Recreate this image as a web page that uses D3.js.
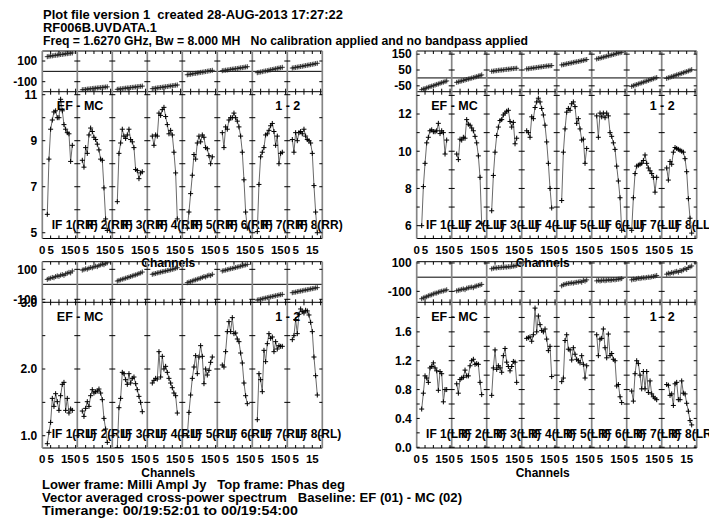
<!DOCTYPE html>
<html><head><meta charset="utf-8">
<script src="https://cdn.jsdelivr.net/npm/d3@7"></script>
<style>
body{margin:0;background:#fff}
svg{display:block}
text{font-family:"Liberation Sans",Arial,Helvetica,sans-serif;font-weight:bold;fill:#000;white-space:pre}
</style></head><body>
<svg id="c" width="709" height="522"></svg>
<script>
// ---------------- data ----------------
const IFS = [1,2,3,4,5,6,7,8];
const CHANNELS = [3,4,5,6,7,8,9,10,11,12,13,14,15,16,17,18];
const POLS = ["RR","LL","RL","LR"];
const CHAN_TICKS = [5,10,15,20];
const CHAN_LABELS = [0,5,15];

const headerLines = [
  "Plot file version 1  created 28-AUG-2013 17:27:22",
  "RF006B.UVDATA.1",
  "Freq = 1.6270 GHz, Bw = 8.000 MH   No calibration applied and no bandpass applied"
];
const footerLines = [
  "Lower frame: Milli Ampl Jy   Top frame: Phas deg",
  "Vector averaged cross-power spectrum   Baseline: EF (01) - MC (02)",
  "Timerange: 00/19:52:01 to 00/19:54:00"
];
const baselineLabel = "EF - MC";
const antLabel = "1 - 2";
const xTitle = "Channels";

const ampRR = [
 [5.8,8.2,9.5,9.9,10.25,10.3,10.0,10.0,10.8,10.3,9.7,9.5,9.35,9.3,8.1,8.8],
 [8.15,7.85,8.7,8.45,9.25,9.55,9.4,9.15,9.05,8.85,8.6,8.2,8.15,6.95,5.6,5.1],
 [6.35,8.45,8.9,9.5,9.2,9.1,9.25,9.5,9.05,8.95,8.7,7.75,7.7,7.35,7.6,7.65],
 [9.2,8.8,9.25,9.2,10.2,10.1,10.35,10.45,10.05,9.7,9.3,9.45,9.25,8.5,7.6,5.6],
 [5.2,5.9,6.7,7.5,8.4,8.2,8.9,9.2,8.95,9.25,9.15,8.7,8.65,8.35,8.0,8.3],
 [9.35,8.7,9.6,9.5,9.9,10.0,10.0,10.2,10.0,9.85,9.6,9.2,8.5,7.3,5.9,5.2],
 [5.05,7.1,8.3,8.5,8.7,9.25,9.3,9.45,9.65,9.75,9.4,8.8,9.2,8.0,8.45,8.5],
 [9.05,8.5,9.35,9.0,9.35,9.4,9.3,9.5,9.2,9.05,9.0,8.9,8.45,7.05,5.9,5.0]
];
const phsRR = [
 [142,145,149,150,153,156,157,160,163,164,167,170,171,174,176,178],
 [-178,-176,-175,-172,-170,-169,-166,-164,-163,-161,-159,-158,-155,-154,-152,-150],
 [-174,-172,-169,-168,-165,-163,-161,-160,-157,-155,-154,-151,-149,-147,-145,-143],
 [-168,-166,-163,-160,-158,-156,-154,-151,-149,-147,-144,-142,-139,-137,-134,-132],
 [-33,-30,-28,-24,-21,-19,-16,-13,-10,-8,-5,-2,1,4,7,10],
 [6,9,11,13,16,19,21,23,26,28,31,34,36,39,42,45],
 [-13,-10,-6,-3,1,4,7,11,15,18,21,25,29,32,35,39],
 [32,35,38,41,44,47,49,53,56,59,62,65,68,71,75,78]
];
const ampLL = [
 [6.0,8.1,9.35,10.45,10.75,11.1,11.15,11.05,11.05,11.1,11.5,10.95,11.1,11.0,9.85,10.6],
 [9.85,9.55,10.65,10.6,10.75,10.7,11.7,11.45,11.4,11.25,11.1,10.8,10.45,9.75,8.6,6.1],
 [6.8,8.7,9.95,10.85,11.3,11.65,11.7,11.95,12.05,12.15,12.2,11.6,11.3,11.55,10.4,10.7],
 [11.1,11.0,10.75,11.85,11.75,12.35,12.65,12.85,12.65,12.3,11.95,11.4,10.5,9.35,8.0,6.95],
 [7.35,9.95,11.2,12.1,12.3,12.2,12.55,12.65,12.4,11.5,11.75,11.2,10.6,10.65,9.35,10.15],
 [11.9,10.75,12.05,11.85,12.05,11.8,12.05,11.9,11.0,10.8,10.45,10.1,9.2,8.4,7.5,5.75],
 [5.75,7.5,8.8,9.2,9.25,9.3,9.35,9.5,9.8,9.35,9.1,8.95,8.8,8.6,7.8,8.6],
 [9.1,8.45,9.45,9.3,9.95,10.2,10.15,10.1,10.05,10.0,9.95,9.6,8.9,7.45,6.4,5.6]
];
const phsLL = [
 [-74,-70,-67,-63,-59,-55,-52,-49,-45,-41,-38,-34,-30,-27,-23,-19],
 [-28,-25,-22,-19,-16,-13,-10,-7,-4,-1,2,5,8,12,15,19],
 [42,43,45,46,48,49,50,51,53,54,55,56,58,59,60,61],
 [57,58,60,61,63,64,66,67,69,70,72,73,75,76,77,78],
 [82,84,86,89,91,93,95,98,100,102,104,106,109,111,114,116],
 [120,123,125,128,131,134,137,140,142,145,148,151,154,157,159,162],
 [-53,-49,-45,-42,-38,-34,-31,-27,-23,-20,-16,-12,-9,-5,-1,2],
 [-3,1,4,8,11,15,19,22,26,29,33,37,40,44,48,52]
];
const ampRL = [
 [0.88,1.05,1.2,1.56,1.44,1.63,1.51,1.38,1.6,1.77,1.8,1.38,1.56,1.34,1.4,1.38],
 [1.37,1.29,1.41,1.51,1.44,1.6,1.69,1.64,1.66,1.67,1.7,1.64,1.54,1.26,1.1,0.9],
 [0.82,1.42,1.56,1.95,1.93,1.84,1.77,1.93,1.79,1.86,1.88,1.78,1.69,1.59,1.5,1.36],
 [1.79,1.83,1.86,1.85,2.26,1.88,2.19,2.0,2.04,1.95,1.86,1.79,1.72,1.64,1.6,1.34],
 [1.0,1.35,1.61,1.86,2.03,2.2,1.93,2.18,2.35,2.19,1.78,2.0,1.91,1.98,2.1,2.18],
 [2.06,2.03,2.26,2.56,2.71,2.56,2.77,2.53,2.54,2.45,2.41,2.24,2.09,1.79,1.6,1.48],
 [1.24,1.93,1.84,1.66,2.28,2.11,2.38,2.53,2.46,2.48,2.26,2.41,2.3,2.35,2.34,2.34],
 [2.44,2.5,2.74,2.53,2.82,2.9,2.86,2.84,2.88,2.87,2.81,2.7,2.56,2.18,1.9,1.61]
];
const phsRL = [
 [33,38,41,46,44,52,56,53,61,65,60,70,74,80,76,89],
 [95,98,104,101,108,112,110,117,121,118,126,130,134,131,140,144],
 [22,26,30,34,37,41,45,48,52,56,60,63,67,72,76,82],
 [67,70,72,76,78,81,84,86,89,92,94,97,100,103,107,111],
 [11,15,18,22,27,30,34,38,41,46,52,49,57,61,58,67],
 [89,92,95,98,101,104,106,109,112,115,118,121,124,127,130,133],
 [-105,-102,-100,-97,-94,-92,-89,-86,-84,-81,-79,-76,-74,-71,-69,-67],
 [-56,-54,-52,-49,-47,-45,-43,-40,-38,-36,-34,-31,-29,-27,-24,-22]
];
const ampLR = [
 [0.53,0.75,0.99,0.96,0.9,1.1,1.12,1.17,1.1,1.06,0.79,1.05,1.02,0.63,0.8,0.8],
 [0.88,0.75,0.94,0.96,0.97,1.07,0.99,0.99,1.13,1.2,1.22,1.15,1.16,1.15,0.9,0.73],
 [0.72,1.1,1.35,1.08,1.13,1.1,1.04,1.27,1.37,1.18,1.12,1.06,1.12,1.19,1.18,0.9],
 [1.51,1.52,1.53,1.47,1.56,1.93,1.6,1.82,1.7,1.62,1.6,1.64,1.5,1.34,1.4,0.98],
 [0.91,0.96,1.48,1.56,1.36,1.35,1.21,1.38,1.29,1.22,1.2,1.17,1.27,1.15,0.96,1.13],
 [1.56,1.27,1.5,1.51,1.64,1.38,1.24,1.57,1.27,1.3,1.22,1.2,0.85,0.87,0.7,0.62],
 [0.78,0.64,1.02,1.2,1.16,1.0,0.81,1.05,0.81,1.05,0.76,0.92,0.74,0.7,0.68,0.66],
 [0.87,0.86,0.72,0.74,0.58,0.88,0.9,0.66,0.66,0.92,0.75,0.74,0.61,0.5,0.37,0.31]
];
const phsLR = [
 [-152,-146,-141,-138,-131,-127,-124,-118,-113,-112,-106,-102,-99,-97,-93,-89],
 [-96,-92,-90,-86,-83,-88,-78,-75,-72,-70,-74,-64,-62,-58,-55,-51],
 [59,63,66,65,68,67,70,69,72,71,74,73,76,78,80,83],
 [148,150,151,153,154,156,157,158,160,161,163,164,166,167,169,170],
 [-61,-53,-50,-46,-44,-43,-40,-42,-37,-36,-34,-30,-36,-22,-28,-19],
 [-26,-22,-27,-24,-21,-25,-22,-19,-22,-20,-17,-19,-16,-14,-12,-10],
 [-19,-14,-16,-11,-8,-10,-6,-4,-5,-2,0,-1,3,5,8,12],
 [21,28,24,33,30,38,41,35,47,44,52,60,55,68,72,79]
];

const ampTickLabels = {RR:[5,7,9,11], LL:[6,8,10,12], RL:[1.0,2.0,3.0], LR:[0.0,0.4,0.8,1.2,1.6]};
const ampMinorTicks = {RR:[6,8,10], LL:[7,9,11,13], RL:[1.5,2.5], LR:[0.2,0.6,1.0,1.4,1.8]};
const phsTickLabels = {RR:[-100,100], LL:[-50,50,150], RL:[-100,100], LR:[-100,100]};

// ---------------- layout ----------------
const layout = {
  RR:{x0:42.3, phTop:51, phBot:91.7, ampBot:238.5, ampDom:[4.75,11.13], phDom:[-197,197], dec:0, amp:ampRR, phs:phsRR},
  LL:{x0:416.7,phTop:51, phBot:91.7, ampBot:238.5, ampDom:[5.31,13.2], phDom:[-87,170], dec:0, amp:ampLL, phs:phsLL},
  RL:{x0:42.3, phTop:261.7, phBot:302.3, ampBot:448, ampDom:[0.816,3.0], phDom:[-120,151], dec:1, amp:ampRL, phs:phsRL},
  LR:{x0:416.7,phTop:261.7, phBot:302.3, ampBot:448, ampDom:[-0.01,2.01], phDom:[-177,109], dec:1, amp:ampLR, phs:phsLR}
};
const SW = 35, TK = 3;
const headerWidths = [300, 114, 485];
const footerWidths = [303, 420, 256];

const svg = d3.select("#c");
svg.append("rect").attr("width",709).attr("height",522).attr("fill","#fff");

headerLines.forEach((t,i)=>{
  svg.append("text").attr("x",43).attr("y",19+i*12.8).attr("font-size",13)
    .attr("xml:space","preserve").attr("textLength",headerWidths[i])
    .attr("lengthAdjust","spacingAndGlyphs").text(t);
});
footerLines.forEach((t,i)=>{
  svg.append("text").attr("x",42).attr("y",489+i*12.8).attr("font-size",12.5)
    .attr("xml:space","preserve").attr("textLength",footerWidths[i])
    .attr("lengthAdjust","spacingAndGlyphs").text(t);
});

const plus = "M-2.5,0H2.5M0,-2.5V2.5";

POLS.forEach((pol,pi)=>{
  const L = layout[pol];
  const g = svg.append("g");
  const x1 = L.x0 + SW*IFS.length;
  const yA = d3.scaleLinear().domain(L.ampDom).range([L.ampBot, L.phBot]);
  const yP = d3.scaleLinear().domain(L.phDom).range([L.phBot, L.phTop]);

  const defs = g.append("defs");
  defs.append("clipPath").attr("id","ca"+pol).append("rect")
    .attr("x",L.x0).attr("y",L.phBot).attr("width",x1-L.x0).attr("height",L.ampBot-L.phBot);
  defs.append("clipPath").attr("id","cp"+pol).append("rect")
    .attr("x",L.x0).attr("y",L.phTop).attr("width",x1-L.x0).attr("height",L.phBot-L.phTop);

  const grid = g.append("g");
  [L.phTop, L.phBot, L.ampBot, yP(0)].forEach(y=>{
    grid.append("line").attr("x1",L.x0).attr("x2",x1).attr("y1",y).attr("y2",y)
      .attr("stroke","#000").attr("stroke-width",1);
  });
  const vx = IFS.map((d,i)=>L.x0+SW*i).concat([x1]);
  vx.forEach(x=>{
    grid.append("line").attr("x1",x).attr("x2",x).attr("y1",L.phTop).attr("y2",L.ampBot)
      .attr("stroke","#858585").attr("stroke-width",1.7);
  });

  const ampTicks = ampTickLabels[pol].concat(ampMinorTicks[pol]);
  vx.forEach((x,i)=>{
    const l = i===0 ? 0 : -TK, r = i===vx.length-1 ? 0 : TK;
    ampTicks.forEach(v=>{
      const y = yA(v);
      grid.append("line").attr("x1",x+l).attr("x2",x+r).attr("y1",y).attr("y2",y)
        .attr("stroke","#000").attr("stroke-width",1);
    });
    phsTickLabels[pol].forEach(v=>{
      const y = yP(v);
      grid.append("line").attr("x1",x+l).attr("x2",x+r).attr("y1",y).attr("y2",y)
        .attr("stroke","#000").attr("stroke-width",1);
    });
  });

  IFS.forEach((ifn,k)=>{
    const left = L.x0 + SW*k;
    const xs = d3.scaleLinear().domain([0,21]).range([left,left+SW]);
    CHAN_TICKS.forEach(c=>{
      const x = xs(c);
      [[L.ampBot,-TK],[L.phBot,TK],[L.phBot,-TK],[L.phTop,TK]].forEach(([y,dy])=>{
        grid.append("line").attr("x1",x).attr("x2",x).attr("y1",y).attr("y2",y+dy)
          .attr("stroke","#000").attr("stroke-width",1);
      });
    });
    CHAN_LABELS.forEach(c=>{
      g.append("text").attr("x",xs(c)).attr("y",L.ampBot+15).attr("text-anchor","middle")
        .attr("font-size",11.5).text(c);
    });
    g.append("text").attr("x",left+9.4).attr("y",L.ampBot-10).attr("font-size",12)
      .text("IF "+ifn+"("+pol+")");

    const ampPts = CHANNELS.map((c,j)=>[xs(c), yA(L.amp[k][j])]);
    const phsPts = CHANNELS.map((c,j)=>[xs(c), yP(L.phs[k][j])]);
    const line = d3.line();
    const ga = g.append("g").attr("clip-path","url(#ca"+pol+")");
    ga.append("path").attr("d",line(ampPts)).attr("fill","none").attr("stroke","#6a6a6a").attr("stroke-width",1);
    ga.selectAll("path.m").data(ampPts).enter().append("path").attr("class","m")
      .attr("transform",d=>"translate("+d[0]+","+d[1]+")").attr("d",plus)
      .attr("stroke","#000").attr("stroke-width",1).attr("fill","none");
    const gp = g.append("g").attr("clip-path","url(#cp"+pol+")");
    gp.append("path").attr("d",line(phsPts)).attr("fill","none").attr("stroke","#6a6a6a").attr("stroke-width",1);
    gp.selectAll("path.m").data(phsPts).enter().append("path").attr("class","m")
      .attr("transform",d=>"translate("+d[0]+","+d[1]+")").attr("d",plus)
      .attr("stroke","#222").attr("stroke-width",0.9).attr("fill","none");
  });

  ampTickLabels[pol].forEach(v=>{
    g.append("text").attr("x",L.x0-5).attr("y",yA(v)).attr("dy","0.36em").attr("text-anchor","end")
      .attr("font-size",12).text(L.dec ? v.toFixed(1) : v);
  });
  phsTickLabels[pol].forEach(v=>{
    g.append("text").attr("x",L.x0-5).attr("y",yP(v)).attr("dy","0.36em").attr("text-anchor","end")
      .attr("font-size",12).text(v);
  });

  g.append("text").attr("x",L.x0+14.5).attr("y",L.phBot+18.7).attr("font-size",12.5).text(baselineLabel);
  g.append("text").attr("x",L.x0+233).attr("y",L.phBot+18.7).attr("font-size",12.5).text(antLabel);
  g.append("text").attr("x",(L.x0+x1)/2-14).attr("y",L.ampBot+28.5).attr("text-anchor","middle")
    .attr("font-size",12).text(xTitle);
});
</script>
</body></html>
